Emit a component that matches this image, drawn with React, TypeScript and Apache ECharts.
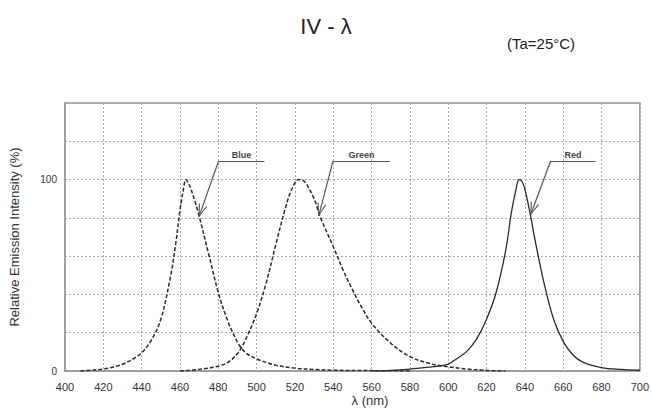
import React, { useEffect, useRef } from "react";
import * as echarts from "echarts";

const xTicks = [400, 420, 440, 460, 480, 500, 520, 540, 560, 580, 600, 620, 640, 660, 680, 700];
const yLabelValues = [0, 100];

const blueData: [number, number][] = [
  [408, 0], [415, 0.5], [420, 1], [425, 2], [430, 3.5], [435, 6], [440, 9.5], [445, 16], [450, 27],
  [455, 49], [458, 68], [460, 84], [462, 96], [463, 100], [465, 97], [468, 88], [470, 81], [475, 61],
  [480, 41], [485, 26], [490, 15], [492, 12], [495, 9], [500, 6.3], [505, 4.5], [510, 3], [520, 1.5],
  [530, 0.8], [540, 0.4], [560, 0.2], [580, 0],
];

const greenData: [number, number][] = [
  [460, 0], [470, 0.8], [480, 2.5], [485, 4.5], [490, 9], [492, 12], [495, 18], [500, 30], [505, 46],
  [510, 66], [515, 85], [518, 94], [522, 100], [525, 99], [530, 90], [533, 81], [540, 65], [545, 53],
  [550, 42.5], [555, 33], [560, 25], [570, 14.5], [580, 7.5], [590, 4], [596, 2.7], [600, 2.2],
  [610, 1], [620, 0.3], [630, 0],
];

const redData: [number, number][] = [
  [560, 0], [570, 0.3], [580, 1], [590, 2], [596, 2.7], [600, 3.6], [605, 6.8], [610, 10.5], [615, 17],
  [620, 27], [625, 41], [630, 63], [633, 83], [635, 93], [637, 100], [638.5, 99], [640, 95], [643, 81],
  [645, 70], [650, 46], [655, 27], [660, 15.5], [665, 8.5], [670, 4.8], [680, 1.8], [690, 0.8], [700, 0.4],
];

// leader annotations: label, corner, horizontal end, arrow tip
const leaderLabels = ["Blue", "Green", "Red"];
const leaderCorners: [number, number][] = [[480.2, 109.8], [539.9, 109.8], [653.5, 109.8]];
const leaderEnds: [number, number][] = [[504.1, 109.8], [569.5, 109.8], [676.8, 109.8]];
const leaderTips: [number, number][] = [[469.9, 80.5], [532.4, 81], [643, 81.6]];

const FONT = "'Liberation Sans', Arial, Helvetica, sans-serif";
const chevron = "path://M5,0 L10,13 L8.6,13 L5,2.8 L1.4,13 L0,13 Z";

function leaderMarkLine(i: number) {
  return {
    silent: true,
    symbol: ["none", "none"],
    lineStyle: { color: "#555", width: 1.2, type: "solid" },
    data: [
      [
        {
          coord: leaderCorners[i],
          symbol: "none",
          label: {
            show: true,
            position: "insideMiddleTop",
            formatter: leaderLabels[i],
            fontSize: 9,
            fontWeight: "bold",
            color: "#444",
            fontFamily: FONT,
            distance: 1,
          },
        },
        { coord: leaderEnds[i], symbol: "none" },
      ],
      [
        { coord: leaderCorners[i], symbol: "none", label: { show: false } },
        { coord: leaderTips[i], symbol: chevron, symbolSize: [9, 13], symbolOffset: [0, 6] },
      ],
    ],
  };
}

export default function App() {
  const ref = useRef<HTMLDivElement>(null);
  useEffect(() => {
    if (!ref.current) return;
    const chart = echarts.init(ref.current, null, { renderer: "svg" });
    const lineBase = {
      type: "line",
      showSymbol: false,
      symbol: "none",
      smooth: 0.35,
      silent: true,
    };
    chart.setOption({
      animation: false,
      backgroundColor: "#ffffff",
      title: {
        text: "IV - λ",
        left: "center",
        top: 10,
        textStyle: { fontSize: 22, fontWeight: "normal", color: "#222", fontFamily: FONT },
      },
      grid: {
        left: 63,
        right: 10,
        top: 103,
        bottom: 43,
        show: true,
        borderColor: "#999",
        borderWidth: 1.5,
        backgroundColor: "transparent",
      },
      xAxis: {
        type: "value",
        min: 400,
        max: 700,
        interval: 20,
        axisLine: { show: true, lineStyle: { color: "#999", width: 1.5 } },
        axisTick: { show: false },
        axisLabel: {
          margin: 10,
          fontSize: 11,
          color: "#333",
          fontFamily: FONT,
          formatter: (v: number) => (xTicks.includes(v) ? String(v) : ""),
        },
        splitLine: { show: true, lineStyle: { color: "#aaa", type: [2, 2], width: 1 } },
      },
      yAxis: {
        type: "value",
        min: 0,
        max: 140,
        interval: 20,
        name: "Relative Emission Intensity (%)",
        nameLocation: "middle",
        nameGap: 44,
        nameTextStyle: { fontSize: 13, color: "#333", fontFamily: FONT },
        axisLine: { show: true, lineStyle: { color: "#999", width: 1.5 } },
        axisTick: { show: false },
        axisLabel: {
          margin: 8,
          fontSize: 10,
          color: "#333",
          fontFamily: FONT,
          formatter: (v: number) => (yLabelValues.includes(v) ? String(v) : ""),
        },
        splitLine: { show: true, lineStyle: { color: "#aaa", type: [2, 2], width: 1 } },
      },
      graphic: [
        {
          type: "text",
          x: 541,
          y: 43,
          style: {
            text: "(Ta=25°C)",
            fontSize: 15,
            fill: "#222",
            fontFamily: FONT,
            align: "center",
            verticalAlign: "middle",
          },
        },
        {
          type: "text",
          x: 370,
          y: 400,
          style: {
            text: "λ (nm)",
            fontSize: 13,
            fill: "#333",
            fontFamily: FONT,
            align: "center",
            verticalAlign: "middle",
          },
        },
      ],
      series: [
        {
          ...lineBase,
          name: "Blue",
          data: blueData,
          lineStyle: { color: "#2a2a2a", width: 1.5, type: [4, 2] },
          markLine: leaderMarkLine(0),
        },
        {
          ...lineBase,
          name: "Green",
          data: greenData,
          lineStyle: { color: "#2a2a2a", width: 1.5, type: [4, 2] },
          markLine: leaderMarkLine(1),
        },
        {
          ...lineBase,
          name: "Red",
          data: redData,
          lineStyle: { color: "#2a2a2a", width: 1.3, type: "solid" },
          markLine: leaderMarkLine(2),
        },
      ],
    });
    return () => chart.dispose();
  }, []);
  return (
    <div
      ref={ref}
      style={{ position: "fixed", left: 0, top: 0, width: 652, height: 414 }}
    />
  );
}
